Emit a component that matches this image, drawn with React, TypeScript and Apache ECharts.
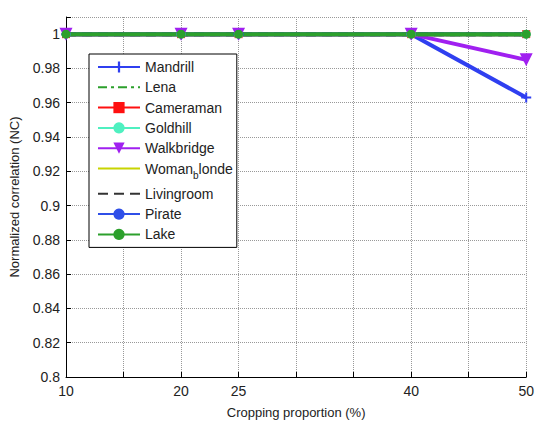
import React, { useEffect, useRef } from "react";
import * as echarts from "echarts";

const xValues = [10, 20, 25, 40, 50];
const mandrill = [1, 1, 1, 1, 0.963];
const lena = [1, 1, 1, 1, 1];
const cameraman = [1, 1, 1, 1, 1];
const goldhill = [1, 1, 1, 1, 1];
const walkbridge = [1, 1, 1, 1, 0.985];
const womanBlonde = [1, 1, 1, 1, 1];
const livingroom = [1, 1, 1, 1, 1];
const pirate = [1, 1, 1, 1, 1];
const lake = [1, 1, 1, 1, 1];
const xTickLabels = [10, 20, 25, 40, 50];
const seriesNames = [
  "Mandrill",
  "Lena",
  "Cameraman",
  "Goldhill",
  "Walkbridge",
  "Woman_blonde",
  "Livingroom",
  "Pirate",
  "Lake",
];
const noMarker = ["Lena", "Woman_blonde", "Livingroom"];

const FONT = "Liberation Sans, Arial, sans-serif";
const PLUS = "path://M0,4 L10,4 L10,6 L0,6 Z M4,0 L6,0 L6,10 L4,10 Z";
const TRI_DOWN = "path://M0,0 L10,0 L5,9 Z";

function pts(vals: number[]) {
  return xValues.map((x, i) => [x, vals[i]]);
}

export default function App() {
  const ref = useRef<HTMLDivElement>(null);
  useEffect(() => {
    if (!ref.current) return;
    const chart = echarts.init(ref.current, null, { renderer: "svg" });
    const mk = (
      name: string,
      vals: number[],
      color: string,
      symbol: string,
      symbolSize: number,
      type: any = "solid",
      width = 4
    ) => ({
      name,
      type: "line",
      data: pts(vals),
      symbol,
      symbolSize,
      showSymbol: symbol !== "none",
      itemStyle: { color },
      lineStyle: { color, width, type },
      z: 2,
    });
    chart.setOption({
      animation: false,
      backgroundColor: "#ffffff",
      grid: { left: 63, right: 9, top: 17, bottom: 39, containLabel: false },
      xAxis: {
        type: "value",
        min: 10,
        max: 50,
        interval: 5,
        name: "Cropping proportion (%)",
        nameLocation: "middle",
        nameGap: 29,
        nameTextStyle: { fontFamily: FONT, fontSize: 13, color: "#222" },
        axisLine: { lineStyle: { color: "#000", width: 1 } },
        axisTick: { inside: true, length: 5, lineStyle: { color: "#000" } },
        axisLabel: {
          fontFamily: FONT,
          fontSize: 14,
          color: "#222",
          margin: 7,
          formatter: (v: number) => (xTickLabels.includes(v) ? String(v) : ""),
        },
        splitLine: { show: true, lineStyle: { color: "#999", type: "dotted", width: 1 } },
      },
      yAxis: {
        type: "value",
        min: 0.8,
        max: 1.01,
        interval: 0.02,
        name: "Normalized correlation (NC)",
        nameLocation: "middle",
        nameGap: 45,
        nameTextStyle: { fontFamily: FONT, fontSize: 13, color: "#222" },
        axisLine: { show: true, lineStyle: { color: "#000", width: 1 } },
        axisTick: { show: true, inside: true, length: 5, lineStyle: { color: "#000" } },
        axisLabel: {
          fontFamily: FONT,
          fontSize: 14,
          color: "#222",
          margin: 6,
          formatter: (v: number) => {
            if (v > 1.005) return "";
            const r = Math.round(v * 100) / 100;
            return r === 1 ? "1" : String(r);
          },
        },
        splitLine: { show: true, lineStyle: { color: "#999", type: "dotted", width: 1 } },
      },
      legend: {
        orient: "vertical",
        left: 89,
        top: 54,
        itemWidth: 42,
        itemHeight: 14,
        itemGap: 6.3,
        padding: [6, 4, 6, 8],
        borderColor: "#000",
        borderWidth: 1,
        backgroundColor: "#fff",
        textStyle: {
          fontFamily: FONT,
          fontSize: 14,
          color: "#222",
          rich: {
            sub: { fontFamily: FONT, fontSize: 10, color: "#222", padding: [14, 0, 0, 0] },
          },
        },
        formatter: (name: string) => (name === "Woman_blonde" ? "Woman{sub|b}londe" : name),
        data: seriesNames.map((n) =>
          noMarker.includes(n)
            ? { name: n, itemStyle: { color: "rgba(0,0,0,0)", borderWidth: 0, opacity: 0 } }
            : { name: n }
        ),
      },
      series: [
        mk("Mandrill", mandrill, "#2f3ff0", PLUS, 10),
        mk("Lena", lena, "#2ca02c", "none", 0, [9, 4, 3, 4]),
        mk("Cameraman", cameraman, "#ff1010", "rect", 8),
        mk("Goldhill", goldhill, "#4ff0c0", "circle", 9),
        mk("Walkbridge", walkbridge, "#a020f0", TRI_DOWN, 13),
        mk("Woman_blonde", womanBlonde, "#c8d400", "none", 0),
        mk("Livingroom", livingroom, "#333333", "none", 0, [10, 6]),
        mk("Pirate", pirate, "#2f4fe8", "circle", 8),
        mk("Lake", lake, "#2ca02c", "circle", 9),
      ],
    });
    return () => chart.dispose();
  }, []);
  return <div ref={ref} style={{ width: 537, height: 424, position: "absolute", left: 0, top: 0 }} />;
}
